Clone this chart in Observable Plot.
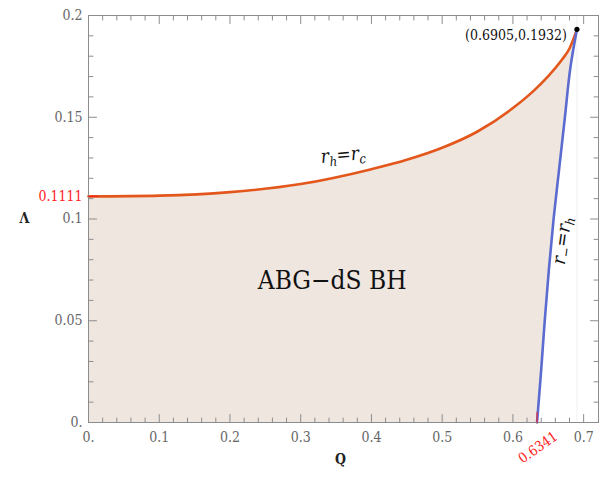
<!DOCTYPE html>
<html>
<head>
<meta charset="utf-8">
<script src="https://cdn.jsdelivr.net/npm/d3@7"></script>
<script src="https://cdn.jsdelivr.net/npm/@observablehq/plot@0.6"></script>
<style>
  body { margin: 0; background: #fff; font-family: "DejaVu Serif Condensed", "DejaVu Serif", serif; }
</style>
</head>
<body>
<div id="chart"></div>
<script>
// Upper boundary r_h = r_c : Λ as a function of Q
const orangeQ = [0, 0.1, 0.2, 0.3, 0.4, 0.45, 0.5, 0.55, 0.6, 0.63, 0.65, 0.67, 0.68, 0.6905];
const orangeL = [0.1111, 0.1115, 0.1132, 0.1172, 0.1245, 0.1291, 0.1350, 0.1430, 0.1545, 0.1632, 0.1702, 0.1786, 0.1838, 0.1932];

// Right boundary r_- = r_h : Q as a function of Λ
const blueL = [0, 0.025, 0.05, 0.075, 0.1, 0.125, 0.15, 0.175, 0.1932];
const blueQ = [0.6341, 0.6398, 0.6450, 0.6508, 0.6575, 0.6655, 0.6735, 0.6815, 0.6905];

// Meeting point of the two boundaries
const cornerQ = 0.6905;
const cornerL = 0.1932;

// Axis ticks and their labels
const xMajor = [0, 0.1, 0.2, 0.3, 0.4, 0.5, 0.6, 0.7];
const xTickLabels = ["0.", "0.1", "0.2", "0.3", "0.4", "0.5", "0.6", "0.7"];
const yMajor = [0, 0.05, 0.1, 0.15, 0.2];
const yTickLabels = ["0.", "0.05", "0.1", "0.15", "0.2"];
const xMinor = d3.range(0, 36).map(i => +(i * 0.02).toFixed(2)).filter(v => !xMajor.includes(v));
const yMinor = d3.range(0, 21).map(i => +(i * 0.01).toFixed(2)).filter(v => !yMajor.includes(v));

const orange = orangeQ.map((q, i) => ({Q: q, L: orangeL[i]}));
const blue = blueQ.map((q, i) => ({Q: q, L: blueL[i]}));
// Closed outline of the allowed region: origin, along r_h=r_c, back down r_-=r_h
const region = [{Q: 0, L: 0}, ...orange, ...blue.slice(0, -1).reverse()];

const xMax = 0.721, yMax = 0.2;
const serif = "'DejaVu Serif Condensed', 'DejaVu Serif', serif";
const frameColor = "#8c8c8c";
const labelColor = "#666";
const red = "#ff1a1a";

// plain line segment used for Mathematica-style inward ticks
const tickShape = {draw(context, l) { context.moveTo(0, 0); context.lineTo(0, -l); }};
const ticks = (data, channel, at, rotate, length, stroke = frameColor) =>
  Plot.vector(data, {
    [channel]: d => d,
    [channel === "x" ? "y" : "x"]: at,
    rotate, length, anchor: "start", shape: tickShape, stroke, strokeWidth: 1
  });
const label = (data, options) => Plot.text(data, {fontFamily: serif, ...options});

const chart = Plot.plot({
  width: 602,
  height: 492,
  marginLeft: 88,
  marginRight: 4,
  marginTop: 15,
  marginBottom: 70,
  x: {domain: [0, xMax], axis: null},
  y: {domain: [0, yMax], axis: null},
  style: {fontFamily: serif, background: "#fff", overflow: "visible"},
  marks: [
    Plot.line(region, {x: "Q", y: "L", fill: "#efe6e0", stroke: "none", curve: "linear"}),
    Plot.ruleX([cornerQ], {stroke: "#f1f1f1", strokeWidth: 1}),
    Plot.line(orange, {x: "Q", y: "L", stroke: "#e4571c", strokeWidth: 2.6, curve: "monotone-x"}),
    Plot.line(blue, {x: "Q", y: "L", stroke: "#5b6bcf", strokeWidth: 2.6, curve: "monotone-y"}),
    Plot.frame({stroke: frameColor, strokeWidth: 1}),
    // ticks on all four sides
    ticks(xMajor, "x", 0, 0, 8),
    ticks(xMinor, "x", 0, 0, 4.5),
    ticks(xMajor, "x", yMax, 180, 8),
    ticks(xMinor, "x", yMax, 180, 4.5),
    ticks(yMajor, "y", 0, 90, 8),
    ticks(yMinor, "y", 0, 90, 4.5),
    ticks(yMajor, "y", xMax, 270, 8),
    ticks(yMinor, "y", xMax, 270, 4.5),
    // red markers for the intercepts
    ticks([orangeL[0]], "y", 0, 90, 9, red),
    ticks([blueQ[0]], "x", 0, 0, 10, red),
    // tick labels
    label(xMajor, {x: d => d, y: 0, text: (d, i) => xTickLabels[i], dy: 15, fill: labelColor, fontSize: 14}),
    label(yMajor, {x: 0, y: d => d, text: (d, i) => yTickLabels[i], dx: -6, textAnchor: "end", fill: labelColor, fontSize: 14}),
    // axis titles
    label(["Q"], {frameAnchor: "bottom", dy: 41, dx: -3, text: d => d, fontWeight: "bold", fontSize: 14, fill: "#222"}),
    label(["Λ"], {frameAnchor: "left", dx: -69, text: d => d, fontWeight: "bold", fontSize: 14, fill: "#222"}),
    // intercept values
    label([orangeL[0]], {x: 0, y: d => d, text: d => d.toFixed(4), dx: -6, textAnchor: "end", fill: red, fontSize: 14}),
    label([blueQ[0]], {x: d => d, y: 0, text: d => d.toFixed(4), dx: 1, dy: 25, rotate: -35, fill: red, fontSize: 14}),
    // meeting point
    Plot.dot([{Q: cornerQ, L: cornerL}], {x: "Q", y: "L", r: 2.6, fill: "#000", stroke: "none"}),
    label([{Q: cornerQ, L: cornerL}], {x: "Q", y: "L", text: d => `(${d.Q},${d.L})`, dx: -10, dy: 6, textAnchor: "end", fill: "#111", fontSize: 14}),
    // curve names and region name
    label([{Q: 0.36, L: 0.1315}], {x: "Q", y: "L", text: () => "rh=rc", rotate: -5, fill: "#111", fontSize: 19, fontStyle: "italic"}),
    label([{Q: 0.6695, L: 0.0894}], {x: "Q", y: "L", text: () => "r-=rh", rotate: -82, fill: "#111", fontSize: 19, fontStyle: "italic"}),
    label([{Q: 0.3445, L: 0.0695}], {x: "Q", y: "L", text: () => "ABG−dS BH", fill: "#111", fontSize: 26})
  ]
});

// typeset subscripts in the curve names
const sub = (node, parts) => {
  const t = d3.select(node).text(null);
  let shifted = false;
  for (const [s, isSub] of parts) {
    const span = t.append("tspan").text(s);
    if (isSub && !shifted) { span.attr("dy", 4).attr("font-size", 13); shifted = true; }
    else if (!isSub && shifted) { span.attr("dy", -4); shifted = false; }
    else if (isSub) span.attr("font-size", 13);
  }
};
d3.select(chart).selectAll("text").each(function () {
  const s = this.textContent;
  if (s === "rh=rc") sub(this, [["r", false], ["h", true], ["=r", false], ["c", true]]);
  if (s === "r-=rh") sub(this, [["r", false], ["−", true], ["=r", false], ["h", true]]);
});

document.getElementById("chart").append(chart);
</script>
</body>
</html>
